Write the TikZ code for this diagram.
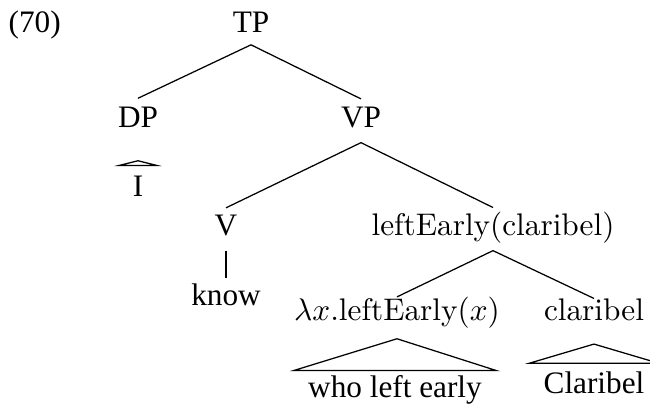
\documentclass[tikz,border=0pt]{standalone}
\usepackage{fontspec}
\newfontfamily\tms{Liberation Serif}
\usetikzlibrary{calc}
\begin{document}
\begin{tikzpicture}[x=0.32pt,y=-0.32pt,
  lab/.style={anchor=base,inner sep=0pt,font=\tms},
  sem/.style={anchor=base,inner sep=0pt},
  edge/.style={draw=black,line width=0.4pt}]
\useasboundingbox (0,0) rectangle (650,408);
\node[lab,anchor=base west] (ex) at (8,32) {(70)};
\node[lab,text depth=3.9pt] (TP) at (251,32) {TP};
\node[lab,text height=9pt,text depth=10.6pt] (DP) at (138,127) {DP};
\node[lab,text height=8.8pt,text depth=4.8pt] (VP) at (361,127) {VP};
\node[lab,text height=9.6pt] (I) at (138,196) {I};
\node[lab,text height=8.5pt,text depth=4.8pt] (V) at (226,235) {V};
\node[lab,text height=8.6pt] (know) at (226,305) {know};
\node[sem,text height=8.6pt,text depth=4.8pt] (lec) at (493,235) {leftEarly(claribel)};
\node[sem,text height=7.2pt,text depth=5.8pt] (lam) at (397,320) {$\lambda x$.leftEarly$(x)$};
\node[sem,text height=6.7pt,text depth=7.5pt] (cl) at (594,320) {claribel};
\node[lab,text height=8.3pt] (who) at (395,397) {who left early};
\node[lab,text height=9.3pt] (Cl) at (594,393) {Claribel};
\draw[edge] (TP.south) -- (DP.north);
\draw[edge] (TP.south) -- (VP.north);
\draw[edge] (VP.south) -- (V.north);
\draw[edge] (VP.south) -- (lec.north);
\draw[edge] (V.south) -- (know.north);
\draw[edge] (lec.south) -- (lam.north);
\draw[edge] (lec.south) -- (cl.north);
\draw[edge] (DP.south) -- ($(I.north)+(-18.5,0)$) -- ($(I.north)+(18.5,0)$) -- cycle;
\draw[edge] (lam.south) -- ($(who.north)+(-101,0)$) -- ($(who.north)+(101,0)$) -- cycle;
\draw[edge] (cl.south) -- ($(Cl.north)+(-65,0)$) -- ($(Cl.north)+(65,0)$) -- cycle;
\end{tikzpicture}
\end{document}
